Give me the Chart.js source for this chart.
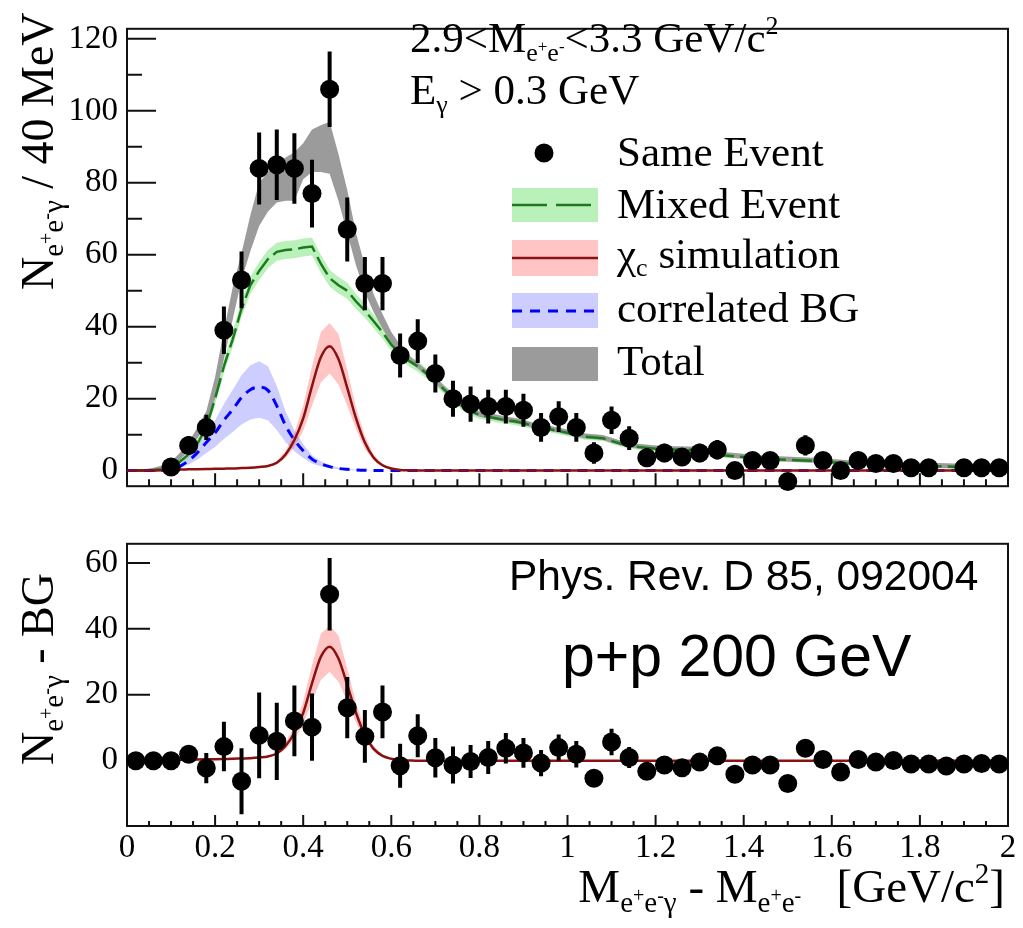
<!DOCTYPE html>
<html>
<head>
<meta charset="utf-8">
<script src="https://cdn.jsdelivr.net/npm/chart.js@4.4.0/dist/chart.umd.min.js"></script>
<style>
  body { margin: 0; background: #fff; }
  #wrap { position: relative; width: 1023px; height: 928px; background: #fff; }
  canvas { position: absolute; left: 0; }
  #top { top: 0; }
  #bot { top: 515px; }
</style>
</head>
<body>
<div id="wrap">
  <canvas id="top" width="1023" height="515"></canvas>
  <canvas id="bot" width="1023" height="413"></canvas>
</div>
<script>
// bin centres (40 MeV bins)
const binX = [0.02,0.06,0.10,0.14,0.18,0.22,0.26,0.30,0.34,0.38,0.42,0.46,0.50,0.54,0.58,0.62,0.66,0.70,0.74,0.78,
  0.82,0.86,0.90,0.94,0.98,1.02,1.06,1.10,1.14,1.18,1.22,1.26,1.30,1.34,1.38,1.42,1.46,1.50,1.54,1.58,
  1.62,1.66,1.70,1.74,1.78,1.82,1.86,1.90,1.94,1.98];

// same event counts (top panel)
const sameY = [null,null,1,7,12,39,53,84,85,84, 77,106,67,52,52,32,36,27,20,18.5,
  17.8,17.8,16.8,12,15,12,4.9,14,9,3.6, 4.9,3.8,4.9,5.8,0,2.8,2.8,-3,7,2.8,
  0,2.8,2,2,0.8,0.8,null,0.8,0.8,0.8];
const sameErr = [0,0,1,2.6,3.5,6.6,7.9,10,9.8,9.8, 9.4,10.5,8.9,7.4,7.4,6.1,6.1,5.3,5,4.9,
  4.7,4.7,4.6,4,4.3,4,3,3.8,3.3,2.6, 2.6,2.3,2.6,2.7,1,2,2,2,2.8,2,
  1,2,1.6,1.6,1.2,1.2,0,1.2,1.2,1.2];

// background subtracted (bottom panel)
const subY = [0,0,0,2,-2.2,4.3,-6.2,7.7,5.9,12.1, 10.2,50.5,16.1,7.4,14.8,-1.5,7.6,0.9,-1.3,-0.2,
  1,3.8,2.4,-0.7,4,2,-5.3,5.7,1,-3.2, -1.3,-2.1,-0.4,1.5,-4.1,-1.3,-1.3,-6.9,3.8,0.4,
  -3.4,0.4,-0.4,0.1,-1,-1,-1.6,-1,-0.8,-1];
const subErr = [0,0,0,1.5,4.6,7.5,10,13,11.7,10.7, 10.2,11,9.3,8,8,6.7,6.5,6,5.6,5,
  5,4.6,4.5,4,4,4,2.5,4,3.2,2.5, 2.5,2.3,2.3,2.5,1.5,1.8,1.8,1.5,2.5,1.8,
  1.2,1.8,1.5,1.5,1,1,1,1,1,1];

// curve grid for mixed event and total
const curveX = [0,0.02,0.04,0.06,0.08,0.10,0.12,0.14,0.16,0.18,0.20,0.22,0.24,0.26,0.28,0.30,0.32,0.34,0.36,0.38,
  0.40,0.42,0.44,0.46,0.48,0.50,0.52,0.54,0.56,0.58,0.60,0.62,0.64,0.66,0.68,0.70,0.72,0.74,0.76,0.78,
  0.80,0.82,0.84,0.86,0.88,0.90,0.92,0.94,0.96,0.98,1.00,
  1.04,1.08,1.12,1.16,1.20,1.24,1.28,1.32,1.36,1.40,1.44,1.48,1.52,1.56,1.60,1.64,1.68,1.72,1.76,1.80,
  1.84,1.88,1.92,1.96,2.00];
const mixedY = [0,0,0.1,0.2,0.4,0.9,2.5,4.5,7.5,12, 20,29,36.5,45,51.5,55.5,58.8,60.8,61.3,61.5,
  62,62.3,57.5,53.5,51.5,50,47,44.5,41.5,38.5, 35,32.5,30.5,29,27,25,22.5,20.5,18,16.5,
  15.5,15,14.5,14,13.7,13.2,12.5,12,11.5,11, 10.5,
  9.4,9,7.5,6.6,6.1,5.9,5.8,5.2,4.2, 3.8,3.4,3.1,2.9,2.7,2.3,2,1.8,1.6,1.5, 1.3,1.2,1.1,1,1,1];
const mixedErr = [0,0,0.1,0.2,0.3,0.5,0.8,1,1.2,1.4, 1.6,1.9,2.1,2.3,2.4,2.5,2.5,2.5,2.5,2.5,
  2.5,2.5,2.4,2.3,2.3,2.2,2.1,2,1.9,1.8, 1.7,1.6,1.5,1.5,1.4,1.4,1.3,1.3,1.2,1.2,
  1.1,1.1,1.1,1,1,1,1,1,0.9,0.9, 0.9,
  0.9,0.8,0.8,0.8,0.7,0.7,0.7,0.7,0.7,0.6,0.6,0.6,0.6,0.6,0.5,0.5,0.5,0.5,0.5,0.5,0.5,0.5,0.5,0.5,0.5];
const totalLo = [0,0,0.1,0.3,0.6,1.2,3,5.5,9,13, 20,31,42,53,61,68,72,74.5,75,75,
  81,83,83,82.5,75,66,57,49.5,44,39.5, 35.5,32.5,30.2,28.4,26.3,24.3,21.8,19.8,17.5,16,
  15,14.5,14,13.5,13.2,12.7,12,11.5,11,10.5, 10,
  8.9,8.5,7,6.1,5.6,5.4,5.3,4.7,3.7,3.3,2.9,2.6,2.4,2.2,1.8,1.5,1.3,1.1,1,0.8,0.7,0.6,0.5,0.5,0.5];
const totalHi = [0,0.2,0.4,0.8,1.4,2.5,5,8,12,16.5, 26,39,51,60.5,71,80,83,85,87,88.5,
  91,94.8,96,97,88,78,66,57,49,43.5, 38.5,35,32,30,28,26,23.5,21.5,19,17.5,
  16.5,16,15.5,15,14.6,14.1,13.4,12.9,12.4,11.9, 11.4,
  10.3,9.9,8.4,7.5,7,6.8,6.7,6.1,5.1,4.7,4.3,4,3.8,3.6,3.2,2.9,2.7,2.5,2.4,2.2,2.1,2,1.9,1.9,1.9];

// grid for chi_c simulation and correlated BG
const shortX = [0,0.02,0.04,0.06,0.08,0.10,0.12,0.14,0.16,0.18,0.20,0.22,0.24,0.26,0.28,0.30,0.32,0.34,
  0.36,0.38,0.40,0.42,0.44,0.46,0.48,0.50,0.52,0.54,0.56,0.58,0.60,0.62,0.64,0.66,0.68,0.70,2.00];
const chiY  = [0,0,0,0.05,0.1, 0.2,0.3,0.35,0.4,0.45, 0.5,0.55,0.6,0.7,0.8, 1.0,1.3,2.2,4.5,8.5,
  14.5,23.5,31.5,34.6,31, 23,14.5,7.8,3.6,1.5, 0.6,0.2,0.1,0,0, 0,0];
const chiLo = [0,0,0,0.05,0.1, 0.2,0.3,0.35,0.4,0.45, 0.5,0.55,0.6,0.7,0.8, 1.0,1.1,1.8,3.5,6.5,
  11,18,24.5,27,24, 18,11.5,6,2.8,1.2, 0.4,0.1,0.05,0,0, 0,0];
const chiHi = [0,0,0,0.05,0.1, 0.2,0.3,0.35,0.4,0.45, 0.5,0.55,0.6,0.7,0.8, 1.0,1.5,2.6,5.5,10.5,
  18,29,38.5,41,38, 28,17.5,9.6,4.4,1.9, 0.8,0.3,0.15,0,0, 0,0];
const bgY  = [0,0,0,0.05,0.1, 0.4,1.2,2.8,5,7.8, 10.5,14,17,20.3,22.5, 23.2,22.3,18,12.5,8.5,
  5.5,3.2,1.9,1.1,0.6, 0.35,0.2,0.1,0.05,0, 0,0,0,0,0, 0,0];
const bgLo = [0,0,0,0.03,0.06, 0.25,0.7,1.7,3.1,4.9, 6.6,8.8,10.7,12.8,14.2, 14.7,14,11.3,7.9,5.4,
  3.5,2,1.2,0.7,0.4, 0.2,0.1,0.05,0,0, 0,0,0,0,0, 0,0];
const bgHi = [0,0,0,0.08,0.15, 0.6,1.7,3.8,6.7,10.3, 14,18.5,22.5,26.5,29.3, 30.4,29,23.5,16.5,11.2,
  7.3,4.3,2.6,1.5,0.9, 0.5,0.3,0.15,0.08,0, 0,0,0,0,0, 0,0];

// axis ticks
const xTickValues = [0,0.2,0.4,0.6,0.8,1,1.2,1.4,1.6,1.8,2];
const xTickLabels = ['0','0.2','0.4','0.6','0.8','1','1.2','1.4','1.6','1.8','2'];
const topYTicks = [0,20,40,60,80,100,120];
const topYLabels = ['0','20','40','60','80','100','120'];
const topYMinor = [10,30,50,70,90,110];
const botYTicks = [0,20,40,60];
const botYLabels = ['0','20','40','60'];

const serif = '"Liberation Serif", "Times New Roman", serif';
const sans = '"Liberation Sans", Arial, sans-serif';
Chart.defaults.font.family = serif;

const greenBand = 'rgba(0,200,0,0.27)';
const greenLine = '#1b7a1b';
const redBand = 'rgba(255,90,90,0.35)';
const redLine = '#8b1010';
const blueBand = 'rgba(90,90,255,0.3)';
const blueLine = '#0000ff';
const grey = '#9b9b9b';

function xy(xs, ys) {
  return xs.map((x, i) => ({ x: x, y: ys[i] }));
}

function band(xs, lo, hi, color, order) {
  return [
    { data: xy(xs, lo), borderWidth: 0, pointRadius: 0, fill: false, order: order },
    { data: xy(xs, hi), borderWidth: 0, pointRadius: 0, fill: '-1', backgroundColor: color, order: order }
  ];
}

function curve(xs, ys, color, width, dash, smooth, order) {
  return {
    data: xy(xs, ys), borderColor: color, borderWidth: width, borderDash: dash,
    pointRadius: 0, fill: false, order: order,
    cubicInterpolationMode: smooth ? 'monotone' : 'default', tension: smooth ? 0.4 : 0
  };
}

function pointsSet(ys, errs) {
  return {
    data: xy(binX, ys), errors: errs, showLine: false, pointRadius: 9.5, pointHoverRadius: 9.5,
    pointBackgroundColor: '#000', pointBorderWidth: 0, borderColor: '#000', order: 1, clip: false
  };
}

// text with sub/superscripts: parts = [text, size, baseline shift]
function richText(ctx, x, y, parts, align, rotate, family) {
  ctx.save();
  let w = 0;
  parts.forEach(p => { ctx.font = p[1] + 'px ' + (family || serif); w += ctx.measureText(p[0]).width; });
  ctx.translate(x, y);
  if (rotate) ctx.rotate(-Math.PI / 2);
  let cx = align === 'right' ? -w : 0;
  ctx.textAlign = 'left';
  ctx.textBaseline = 'alphabetic';
  ctx.fillStyle = '#000';
  parts.forEach(p => {
    ctx.font = p[1] + 'px ' + (family || serif);
    ctx.fillText(p[0], cx, p[2]);
    cx += ctx.measureText(p[0]).width;
  });
  ctx.restore();
}

const subEEG = [['e', 29, 10], ['+', 20, 0], ['e', 29, 10], ['-', 20, 0], ['γ', 29, 10]];
const subEE = [['e', 29, 10], ['+', 20, 0], ['e', 29, 10], ['-', 20, 0]];

function frameTicks(yMajor, yMinor, yMajLen, yMinLen, xMajLen, xMinLen) {
  return {
    id: 'frameTicks',
    beforeDatasetsDraw(chart) {
      const a = chart.chartArea, ctx = chart.ctx;
      const xs = chart.scales.x, ys = chart.scales.y;
      ctx.save();
      ctx.strokeStyle = '#111';
      ctx.lineWidth = 2;
      ctx.strokeRect(a.left, a.top, a.right - a.left, a.bottom - a.top);
      ctx.beginPath();
      xTickValues.forEach(v => {
        const px = xs.getPixelForValue(v);
        ctx.moveTo(px, a.bottom); ctx.lineTo(px, a.bottom - xMajLen);
      });
      for (let i = 0; i <= 40; i++) {
        const px = xs.getPixelForValue(i * 0.05);
        ctx.moveTo(px, a.bottom); ctx.lineTo(px, a.bottom - xMinLen);
      }
      yMajor.forEach(v => {
        const py = ys.getPixelForValue(v);
        ctx.moveTo(a.left, py); ctx.lineTo(a.left + yMajLen, py);
      });
      yMinor.forEach(v => {
        const py = ys.getPixelForValue(v);
        ctx.moveTo(a.left, py); ctx.lineTo(a.left + yMinLen, py);
      });
      ctx.stroke();
      ctx.restore();
    }
  };
}

const errorBars = {
  id: 'errorBars',
  beforeDatasetDraw(chart, args) {
    const ds = chart.data.datasets[args.index];
    if (!ds.errors) return;
    const ctx = chart.ctx, xs = chart.scales.x, ys = chart.scales.y;
    ctx.save();
    ctx.strokeStyle = '#000';
    ctx.lineWidth = 4;
    ctx.beginPath();
    ds.data.forEach((p, i) => {
      if (p.y === null || !ds.errors[i]) return;
      const px = xs.getPixelForValue(p.x);
      ctx.moveTo(px, ys.getPixelForValue(p.y - ds.errors[i]));
      ctx.lineTo(px, ys.getPixelForValue(p.y + ds.errors[i]));
    });
    ctx.stroke();
    ctx.restore();
  }
};

function legendLine(ctx, x0, y, x1, color, width, dash) {
  ctx.save();
  ctx.strokeStyle = color; ctx.lineWidth = width; ctx.setLineDash(dash);
  ctx.beginPath(); ctx.moveTo(x0, y); ctx.lineTo(x1, y); ctx.stroke();
  ctx.restore();
}

const topText = {
  id: 'topText',
  afterDraw(chart) {
    const ctx = chart.ctx;
    // axis title
    richText(ctx, 53, 290, [['N', 46, 0]].concat(subEEG, [[' / 40 MeV', 46, 0]]), 'left', true);
    // cuts
    richText(ctx, 410, 52, [['2.9<M', 43, 0]].concat(
      [['e', 26, 9], ['+', 17, 0], ['e', 26, 9], ['-', 17, 0]],
      [['<3.3 GeV/c', 43, 0], ['2', 26, -18]]), 'left', false);
    richText(ctx, 410, 104, [['E', 43, 0], ['γ', 26, 9], [' > 0.3 GeV', 43, 0]], 'left', false);
    // legend
    ctx.save();
    ctx.fillStyle = '#000';
    ctx.beginPath(); ctx.arc(544, 153, 9.5, 0, 2 * Math.PI); ctx.fill();
    ctx.fillStyle = greenBand; ctx.fillRect(512, 188, 86, 34);
    legendLine(ctx, 512, 205, 598, greenLine, 2.5, [35, 9]);
    ctx.fillStyle = redBand; ctx.fillRect(512, 240, 86, 36);
    legendLine(ctx, 512, 258, 598, redLine, 2.5, []);
    ctx.fillStyle = blueBand; ctx.fillRect(512, 293, 86, 35);
    legendLine(ctx, 512, 311, 598, blueLine, 3, [10, 8]);
    ctx.fillStyle = grey; ctx.fillRect(512, 347, 86, 34);
    ctx.restore();
    richText(ctx, 617, 166, [['Same Event', 43, 0]], 'left', false);
    richText(ctx, 617, 218, [['Mixed Event', 43, 0]], 'left', false);
    richText(ctx, 617, 268, [['χ', 43, 0], ['c', 26, 8], [' simulation', 43, 0]], 'left', false);
    richText(ctx, 617, 322, [['correlated BG', 43, 0]], 'left', false);
    richText(ctx, 617, 375, [['Total', 43, 0]], 'left', false);
  }
};

const botText = {
  id: 'botText',
  afterDraw(chart) {
    const ctx = chart.ctx;
    richText(ctx, 53, 250, [['N', 46, 0]].concat(subEEG, [[' - BG', 46, 0]]), 'left', true);
    richText(ctx, 1005, 387, [['M', 47, 0]].concat(subEEG, [[' - M', 47, 0]], subEE,
      [['   [GeV/c', 47, 0], ['2', 29, -19], [']', 47, 0]]), 'right', false);
    richText(ctx, 509, 75, [['Phys. Rev. D 85, 092004', 42.5, 0]], 'left', false, sans);
    richText(ctx, 562, 161, [['p+p 200 GeV', 59, 0]], 'left', false, sans);
  }
};

const topSets = [].concat(
  band(curveX, mixedY.map((v, i) => v - mixedErr[i]), mixedY.map((v, i) => v + mixedErr[i]), greenBand, 9),
  band(curveX, totalLo, totalHi, grey, 8),
  [curve(curveX, mixedY, greenLine, 2.5, [20, 6], false, 7)],
  band(shortX, bgLo, bgHi, blueBand, 6),
  [curve(shortX, bgY, blueLine, 3, [10, 7], true, 5)],
  band(shortX, chiLo, chiHi, redBand, 4),
  [curve(shortX, chiY, redLine, 2.5, [], true, 3)],
  [pointsSet(sameY, sameErr)]
);

const botSets = [].concat(
  band(shortX, chiLo, chiHi, redBand, 4),
  [curve(shortX, chiY, redLine, 2.5, [], true, 3)],
  [pointsSet(subY, subErr)]
);

const common = {
  responsive: false,
  animation: false,
  events: [],
  plugins: { legend: { display: false }, tooltip: { enabled: false } }
};

new Chart(document.getElementById('top'), {
  type: 'line',
  data: { datasets: topSets },
  options: Object.assign({}, common, {
    layout: { padding: { left: 0, right: 15, top: 9, bottom: 7 } },
    scales: {
      x: { type: 'linear', min: 0, max: 2, display: false },
      y: {
        type: 'linear', min: -4.33, max: 122.8,
        afterBuildTicks: s => { s.ticks = topYTicks.map(v => ({ value: v })); },
        afterFit: s => { s.width = 127; },
        grid: { display: false, drawTicks: false },
        border: { display: false },
        ticks: { color: '#000', font: { size: 33 }, padding: 9, callback: (v, i) => topYLabels[i] }
      }
    }
  }),
  plugins: [frameTicks(topYTicks, topYMinor, 29, 15, 13, 7), errorBars, topText]
});

new Chart(document.getElementById('bot'), {
  type: 'line',
  data: { datasets: botSets },
  options: Object.assign({}, common, {
    layout: { padding: { left: 0, right: 15, top: 5, bottom: 0 } },
    scales: {
      x: {
        type: 'linear', min: 0, max: 2,
        afterBuildTicks: s => { s.ticks = xTickValues.map(v => ({ value: v })); },
        afterFit: s => { s.height = 102; },
        grid: { display: false, drawTicks: false },
        border: { display: false },
        ticks: { color: '#000', font: { size: 33 }, padding: 3, autoSkip: false, maxRotation: 0,
                 callback: (v, i) => xTickLabels[i] }
      },
      y: {
        type: 'linear', min: -19.77, max: 65.79,
        afterBuildTicks: s => { s.ticks = botYTicks.map(v => ({ value: v })); },
        afterFit: s => { s.width = 127; },
        grid: { display: false, drawTicks: false },
        border: { display: false },
        ticks: { color: '#000', font: { size: 33 }, padding: 9, callback: (v, i) => botYLabels[i] }
      }
    }
  }),
  plugins: [frameTicks(botYTicks, [], 23, 0, 11, 5), errorBars, botText]
});
</script>
</body>
</html>
